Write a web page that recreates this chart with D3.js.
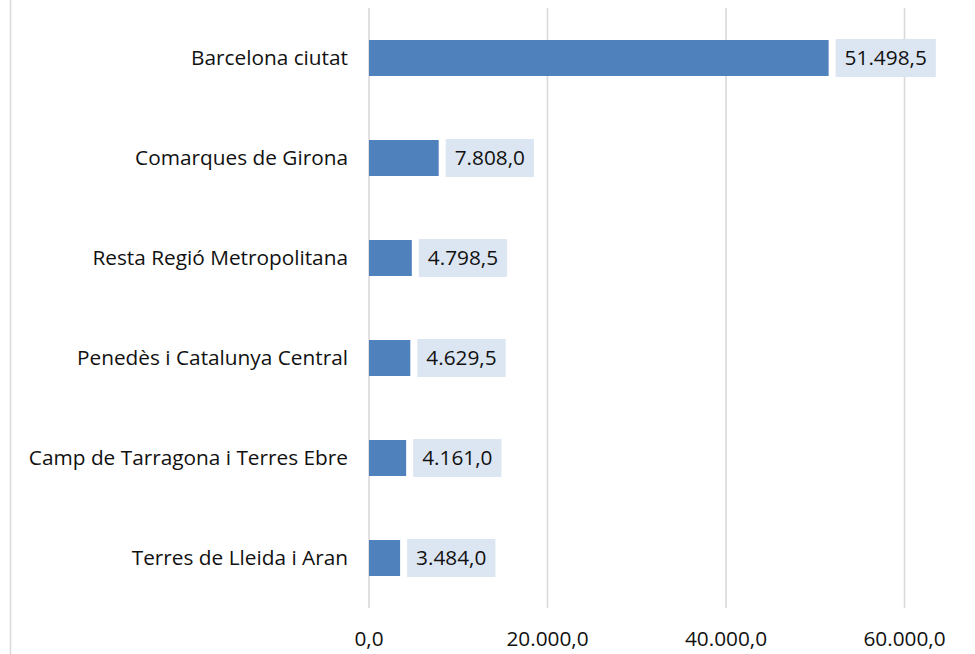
<!DOCTYPE html>
<html>
<head>
<meta charset="utf-8">
<script src="https://cdn.jsdelivr.net/npm/d3@7"></script>
<style>
  body { margin: 0; background: #fff; }
  #chart { width: 975px; height: 654px; }
  text { font-family: "Open Sans", sans-serif; fill: #111; }
</style>
</head>
<body>
<div id="chart"></div>
<script>
!(function(){
    "use strict"

    var categories = ["Barcelona ciutat", "Comarques de Girona", "Resta Regió Metropolitana",
        "Penedès i Catalunya Central", "Camp de Tarragona i Terres Ebre", "Terres de Lleida i Aran"]
    var values = [51498.5, 7808.0, 4798.5, 4629.5, 4161.0, 3484.0]
    var ticks = [0, 20000, 40000, 60000]

    var width = 975, height = 654
    var margin = {top: 8, left: 369, bottom: 46, right: 70}
    var fontSize = "20.8px"

    var locale = d3.formatLocale({decimal: ",", thousands: ".", grouping: [3], currency: ["", "€"]})
    var fmt = locale.format(",.1f")

    var svg = d3.select("#chart").append("svg")
        .attr("width", width).attr("height", height)

    // chart area border (only left edge visible)
    svg.append("line")
        .attr("x1", 10.5).attr("x2", 10.5)
        .attr("y1", 0).attr("y2", height)
        .attr("stroke", "#d9d9d9").attr("stroke-width", 1.5)

    var x = d3.scaleLinear()
        .domain([0, 60000])
        .range([margin.left, 904.5])

    var y = d3.scaleBand()
        .domain(categories)
        .range([margin.top, height - margin.bottom])
        .paddingInner(0.64)
        .paddingOuter(0.32)

    // gridlines
    svg.append("g").selectAll("line")
        .data(ticks)
        .enter().append("line")
        .attr("x1", function(d) { return x(d) }).attr("x2", function(d) { return x(d) })
        .attr("y1", margin.top).attr("y2", height - margin.bottom)
        .attr("stroke", "#d9d9d9").attr("stroke-width", 1.6)

    // tick labels
    svg.append("g").selectAll("text")
        .data(ticks)
        .enter().append("text")
        .attr("x", function(d) { return x(d) })
        .attr("y", 646)
        .attr("text-anchor", "middle")
        .style("font-size", fontSize)
        .text(function(d) { return fmt(d) })

    // category labels
    svg.append("g").selectAll("text")
        .data(categories)
        .enter().append("text")
        .attr("x", margin.left - 21)
        .attr("y", function(d) { return y(d) + y.bandwidth() / 2 })
        .attr("dy", "0.35em")
        .attr("text-anchor", "end")
        .style("font-size", fontSize)
        .text(function(d) { return d })

    var rows = categories.map(function(c, i) { return {name: c, value: values[i]} })

    svg.append("g").selectAll("rect")
        .data(rows)
        .enter().append("rect")
        .attr("x", x(0))
        .attr("y", function(d) { return y(d.name) })
        .attr("width", function(d) { return x(d.value) - x(0) })
        .attr("height", y.bandwidth())
        .attr("fill", "#4f81bd")

    // value labels with background box
    var lab = svg.append("g").selectAll("g")
        .data(rows)
        .enter().append("g")
        .attr("transform", function(d) { return "translate(" + [x(d.value) + 7, y(d.name) - 1] + ")" })

    lab.append("rect")
        .attr("height", y.bandwidth() + 2)
        .attr("fill", "#dce6f2")

    lab.append("text")
        .attr("x", 9)
        .attr("y", (y.bandwidth() + 2) / 2)
        .attr("dy", "0.35em")
        .style("font-size", fontSize)
        .text(function(d) { return fmt(d.value) })

    lab.each(function() {
        var g = d3.select(this)
        var w = g.select("text").node().getComputedTextLength()
        g.select("rect").attr("width", w + 18)
    })
}());
</script>
</body>
</html>
